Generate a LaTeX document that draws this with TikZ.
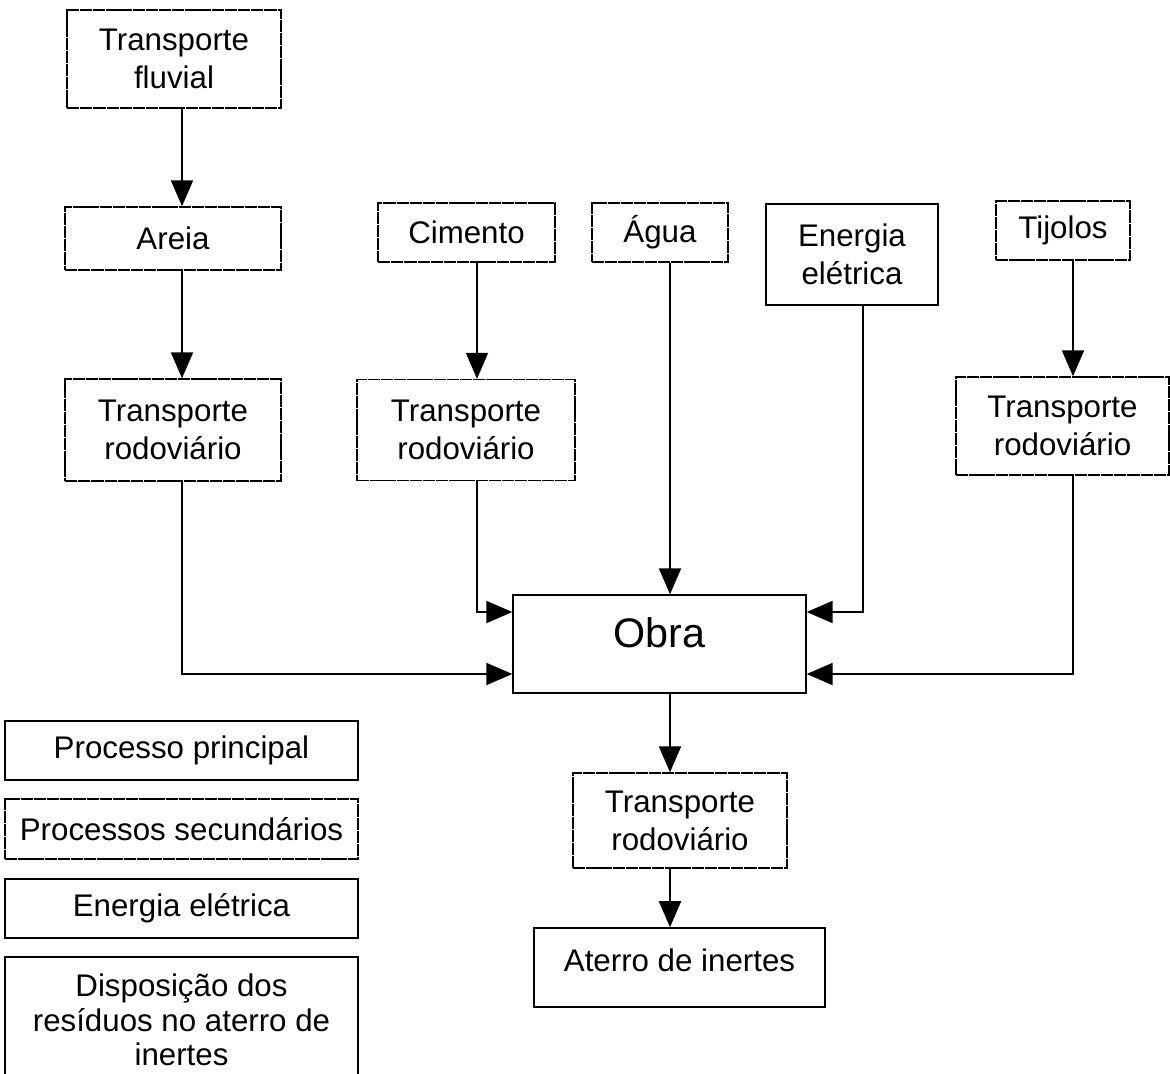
\documentclass[tikz,border=0pt]{standalone}
\usepackage{fontspec}
\setmainfont{Liberation Sans}
\usetikzlibrary{arrows.meta}
\tikzset{
	box/.style={rectangle,draw,line width=0.8pt,align=center,inner sep=0pt,
		font=\fontsize{17.8}{21.5}\selectfont},
	mainbox/.style={box},
	secbox/.style={box,dash pattern=on 7pt off 0.5pt},
	enerbox/.style={box},
	dispbox/.style={box,line width=0.9pt},
	flow/.style={line width=1.1pt,-{Triangle[length=0.52cm,width=0.44cm]}}
}
\begin{document}
\begin{tikzpicture}[x=0.02cm,y=-0.02cm]
				\useasboundingbox (0,0) rectangle (1170,1073);
				\clip (0,0) rectangle (1170,1073);
				% lanes of the connectors
				\coordinate (laneA) at (182,0);
				\coordinate (laneC) at (477,0);
				\coordinate (laneW) at (670,0);
				\coordinate (laneE) at (863,0);
				\coordinate (laneT) at (1073,0);
				% boxes
				\node[secbox,minimum width=4.28cm,minimum height=1.96cm] (fluvial) at (174,59) {Transporte\\fluvial};
				\node[secbox,minimum width=4.32cm,minimum height=1.26cm] (areia) at (173,238.5) {Areia};
				\node[secbox,minimum width=4.32cm,minimum height=2.04cm] (trA) at (173,430) {Transporte\\rodovi\'ario};
				\node[secbox,minimum width=3.54cm,minimum height=1.18cm] (cimento) at (466.5,232.5) {Cimento};
				\node[secbox,minimum width=4.36cm,minimum height=2.02cm] (trC) at (466,430) {Transporte\\rodovi\'ario};
				\node[secbox,minimum width=2.72cm,minimum height=1.18cm] (agua) at (660,232.5) {\'Agua};
				\node[enerbox,minimum width=3.44cm,minimum height=2.02cm] (ener) at (852,254.5) {Energia\\el\'etrica};
				\node[secbox,minimum width=2.68cm,minimum height=1.18cm] (tijolos) at (1063,230.5) {Tijolos};
				\node[secbox,minimum width=4.26cm,minimum height=1.96cm] (trT) at (1062.5,426) {Transporte\\rodovi\'ario};
				\node[mainbox,minimum width=5.86cm,minimum height=1.96cm,font=\fontsize{23.5}{27}\selectfont] (obra) at (659.5,644) {\raisebox{0.44cm}{Obra}};
				\node[secbox,minimum width=4.28cm,minimum height=1.9cm] (trB) at (680,820.5) {Transporte\\rodovi\'ario};
				\node[dispbox,minimum width=5.82cm,minimum height=1.58cm] (aterro) at (679.5,967.5) {\raisebox{0.28cm}{Aterro de inertes}};
				% legend
				\node[mainbox,minimum width=7.06cm,minimum height=1.18cm] (leg1) at (181.5,750.5) {Processo principal};
				\node[secbox,minimum width=7.06cm,minimum height=1.2cm] (leg2) at (181.5,829) {Processos secund\'arios};
				\node[enerbox,minimum width=7.06cm,minimum height=1.18cm] (leg3) at (181.5,908.5) {Energia el\'etrica};
				\node[dispbox,minimum width=7.06cm,minimum height=2.52cm,font=\fontsize{17.8}{19.5}\selectfont] (leg4) at (181.5,1020) {Disposi\c{c}\~ao dos\\res\'iduos no aterro de\\inertes};
				% connectors
				\draw[flow] (fluvial.south -| laneA) -- (areia.north -| laneA);
				\draw[flow] (areia.south -| laneA) -- (trA.north -| laneA);
				\draw[flow] (cimento.south -| laneC) -- (trC.north -| laneC);
				\draw[flow] (tijolos.south -| laneT) -- (trT.north -| laneT);
				\draw[flow] (agua.south -| laneW) -- (obra.north -| laneW);
				\draw[flow] (trA.south -| laneA) |- ([yshift=-0.6cm]obra.west);
				\draw[flow] (trC.south -| laneC) |- ([yshift=0.64cm]obra.west);
				\draw[flow] (ener.south -| laneE) |- ([yshift=0.64cm]obra.east);
				\draw[flow] (trT.south -| laneT) |- ([yshift=-0.6cm]obra.east);
				\draw[flow] (obra.south -| laneW) -- (trB.north -| laneW);
				\draw[flow] (trB.south -| laneW) -- (aterro.north -| laneW);
			\end{tikzpicture}
\end{document}
